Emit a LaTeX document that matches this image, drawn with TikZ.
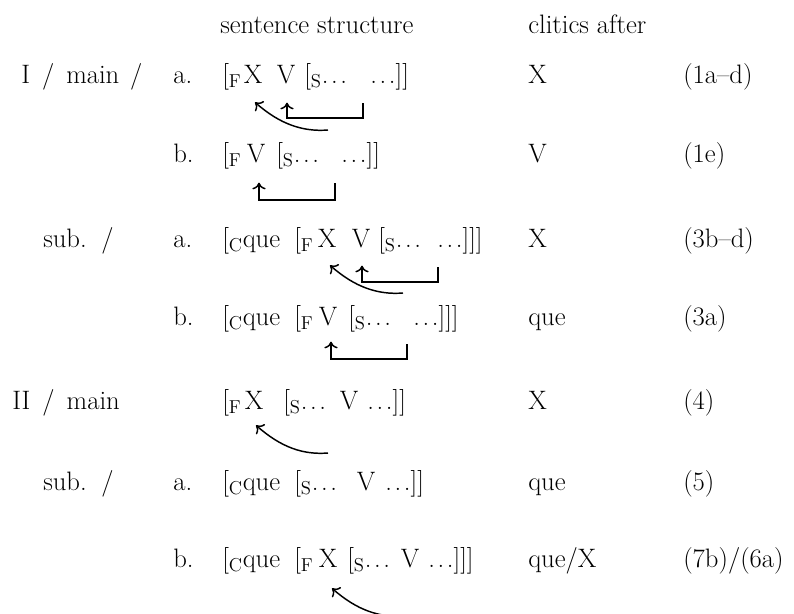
\documentclass[tikz,border=0pt]{standalone}
\usetikzlibrary{arrows.meta, calc}
\tikzset{
    txt/.style={anchor=base west, inner sep=0pt, font=\fontsize{20}{24}\selectfont},
    ltr/.style={txt, anchor=base},
    arrow/.style={-{To[length=5pt,width=10pt]}, line width=1.1pt}
}
\newcommand{\sub}[1]{\textsubscript{#1}}
\newcommand{\dts}{.\kern2pt.\kern2pt.}

\begin{document}
\begin{tikzpicture}[x=0.75pt, y=-0.75pt]
    \useasboundingbox (0,0) rectangle (794,614);

    % header
    \node (hstruct) [txt] at (220,33) {sentence structure};
    \node (hclit) [txt] at (528,33) {clitics after};

    % type I, main
    \node (lmain1) [txt] at (21,83) {I\hspace{9pt}/\hspace{9pt}main\hspace{8pt}/};
    \node (m1a-l) [txt] at (173,83) {a.};
    \node (m1a-f) [txt] at (222,83) {[\sub{F}};
    \node (m1a-x) [ltr] at (253,83) {X};
    \node (m1a-v) [ltr] at (286,83) {V};
    \node (m1a-s) [txt] at (304,83) {[\sub{S}\dts};
    \node (m1a-e) [txt] at (370,83) {\dts]]};
    \node (m1a-c) [txt] at (528,83) {X};
    \node (m1a-r) [txt] at (683,83) {(1a--d)};

    \node (m1b-l) [txt] at (173,162) {b.};
    \node (m1b-f) [txt] at (222,162) {[\sub{F}};
    \node (m1b-v) [ltr] at (256,162) {V};
    \node (m1b-s) [txt] at (276,162) {[\sub{S}\dts};
    \node (m1b-e) [txt] at (341,162) {\dts]]};
    \node (m1b-c) [txt] at (528,162) {V};
    \node (m1b-r) [txt] at (683,162) {(1e)};

    % type I, sub
    \node (lsub1) [txt] at (43,247) {sub.\hspace{11pt}/};
    \node (s1a-l) [txt] at (173,247) {a.};
    \node (s1a-c1) [txt] at (222,247) {[\sub{C}que};
    \node (s1a-f) [txt] at (294,247) {[\sub{F}};
    \node (s1a-x) [ltr] at (327,247) {X};
    \node (s1a-v) [ltr] at (361,247) {V};
    \node (s1a-s) [txt] at (378,247) {[\sub{S}\dts};
    \node (s1a-e) [txt] at (437,247) {\dts]]]};
    \node (s1a-c) [txt] at (528,247) {X};
    \node (s1a-r) [txt] at (683,247) {(3b--d)};

    \node (s1b-l) [txt] at (173,325) {b.};
    \node (s1b-c1) [txt] at (222,325) {[\sub{C}que};
    \node (s1b-f) [txt] at (294,325) {[\sub{F}};
    \node (s1b-v) [ltr] at (328,325) {V};
    \node (s1b-s) [txt] at (348,325) {[\sub{S}\dts};
    \node (s1b-e) [txt] at (413,325) {\dts]]]};
    \node (s1b-c) [txt] at (528,325) {que};
    \node (s1b-r) [txt] at (683,325) {(3a)};

    % type II, main
    \node (lmain2) [txt] at (12,409) {II\hspace{9pt}/\hspace{9pt}main};
    \node (m2-f) [txt] at (222,409) {[\sub{F}};
    \node (m2-x) [ltr] at (254,409) {X};
    \node (m2-s) [txt] at (283,409) {[\sub{S}\dts};
    \node (m2-v) [ltr] at (349,409) {V};
    \node (m2-e) [txt] at (367,409) {\dts]]};
    \node (m2-c) [txt] at (528,409) {X};
    \node (m2-r) [txt] at (683,409) {(4)};

    % type II, sub
    \node (lsub2) [txt] at (43,490) {sub.\hspace{11pt}/};
    \node (s2a-l) [txt] at (173,490) {a.};
    \node (s2a-c1) [txt] at (222,490) {[\sub{C}que};
    \node (s2a-s) [txt] at (294,490) {[\sub{S}\dts};
    \node (s2a-v) [ltr] at (366,490) {V};
    \node (s2a-e) [txt] at (385,490) {\dts]]};
    \node (s2a-c) [txt] at (528,490) {que};
    \node (s2a-r) [txt] at (683,490) {(5)};

    \node (s2b-l) [txt] at (173,567) {b.};
    \node (s2b-c1) [txt] at (222,567) {[\sub{C}que};
    \node (s2b-f) [txt] at (294,567) {[\sub{F}};
    \node (s2b-x) [ltr] at (328,567) {X};
    \node (s2b-s) [txt] at (347,567) {[\sub{S}\dts};
    \node (s2b-v) [ltr] at (410,567) {V};
    \node (s2b-e) [txt] at (428,567) {\dts]]]};
    \node (s2b-c) [txt] at (528,567) {que/X};
    \node (s2b-r) [txt] at (683,567) {(7b)/(6a)};

    % arrow tips, below the moved word
    \coordinate (m1a-xt) at ($(m1a-x.south)+(2,19)$);
    \coordinate (m1a-vt) at ($(m1a-v.south)+(1,19)$);
    \coordinate (m1b-vt) at ($(m1b-v.south)+(3,20)$);
    \coordinate (s1a-xt) at ($(s1a-x.south)+(3,18)$);
    \coordinate (s1a-vt) at ($(s1a-v.south)+(1,18)$);
    \coordinate (s1b-vt) at ($(s1b-v.south)+(3,16)$);
    \coordinate (m2-xt) at ($(m2-x.south)+(2,16)$);
    \coordinate (s2b-xt) at ($(s2b-x.south)+(4,21)$);
    % arrow tails
    \coordinate (m1a-st) at (363,103);
    \coordinate (m1a-ct) at (328,130);
    \coordinate (m1b-st) at (335,183);
    \coordinate (s1a-st) at (438,267);
    \coordinate (s1a-ct) at (403,293);
    \coordinate (s1b-st) at (407,344);
    \coordinate (m2-ct) at (328,453);
    \coordinate (s2b-ct) at (405,616);

    % movements
    \draw [arrow] (m1a-st) -- ++(0,15) -| (m1a-vt);
    \draw [arrow] (m1a-ct) .. controls +(-25,2) and +(25,22) .. (m1a-xt);
    \draw [arrow] (m1b-st) -- ++(0,17) -| (m1b-vt);
    \draw [arrow] (s1a-st) -- ++(0,15) -| (s1a-vt);
    \draw [arrow] (s1a-ct) .. controls +(-25,2) and +(25,22) .. (s1a-xt);
    \draw [arrow] (s1b-st) -- ++(0,15) -| (s1b-vt);
    \draw [arrow] (m2-ct) .. controls +(-25,2) and +(25,22) .. (m2-xt);
    \draw [arrow] (s2b-ct) .. controls +(-25,2) and +(25,22) .. (s2b-xt);
\end{tikzpicture}
\end{document}
